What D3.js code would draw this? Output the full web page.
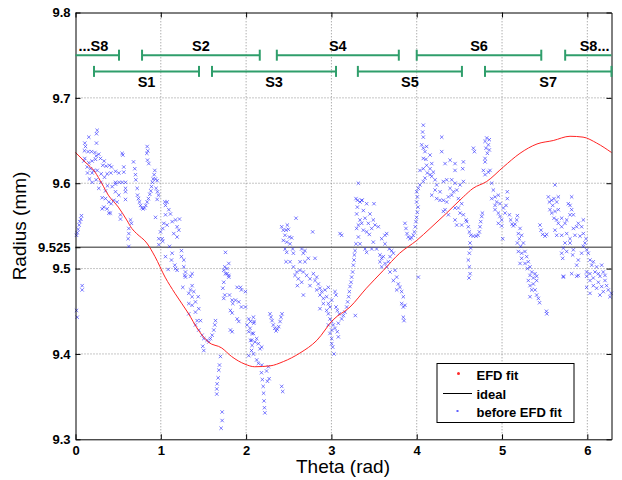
<!DOCTYPE html>
<html>
<head>
<meta charset="utf-8">
<script src="https://cdn.jsdelivr.net/npm/d3@7"></script>
<style>
  body { margin: 0; background: #fff; }
  text { font-family: "Liberation Sans", Arial, sans-serif; }
</style>
</head>
<body>
<svg id="chart"></svg>
<script>
// ---- data ----
const xTicks = [0, 1, 2, 3, 4, 5, 6];
const yTicks = [9.3, 9.4, 9.5, 9.525, 9.6, 9.7, 9.8];
const yGrid = [9.4, 9.5, 9.6, 9.7];
const idealRadius = 9.525;

const efdTheta = [0, 0.111, 0.229, 0.307, 0.385, 0.502, 0.6, 0.66, 0.717, 0.835, 0.932, 1.05, 1.166, 1.32, 1.44, 1.557, 1.714, 1.83, 1.987, 2.10, 2.28, 2.436, 2.63, 2.83, 3.02, 3.218, 3.41, 3.61, 3.80, 4.0, 4.156, 4.35, 4.546, 4.66, 4.82, 5.015, 5.21, 5.41, 5.60, 5.797, 5.95, 6.11, 6.283];
const efdRadius = [9.636, 9.625, 9.613, 9.600, 9.586, 9.572, 9.557, 9.547, 9.541, 9.530, 9.514, 9.490, 9.471, 9.448, 9.428, 9.414, 9.407, 9.397, 9.388, 9.385, 9.386, 9.391, 9.401, 9.416, 9.440, 9.455, 9.477, 9.498, 9.518, 9.533, 9.547, 9.565, 9.584, 9.594, 9.602, 9.619, 9.635, 9.646, 9.650, 9.655, 9.654, 9.647, 9.636];

// segments: upper row and lower row
const segUpperNames = ["...S8", "S2", "S4", "S6", "S8..."];
const segUpperStart = [0, 0.78, 2.36, 4.0, 5.74];
const segUpperEnd = [0.51, 2.16, 3.79, 5.46, 6.283];
const segLowerNames = ["S1", "S3", "S5", "S7"];
const segLowerStart = [0.217, 1.6, 3.31, 4.80];
const segLowerEnd = [1.448, 3.054, 4.53, 6.283];

// raw points (theta, radius) before the fit
const before1 = [[0.156,9.654],[0.254,9.662],[0.246,9.658],[0.246,9.647],[0.109,9.647],[0.117,9.643],[0.105,9.638],[0.148,9.637],[0.188,9.637],[0.227,9.636],[0.273,9.634],[0.242,9.632],[0.109,9.629],[0.098,9.626],[0.156,9.624],[0.195,9.626],[0.234,9.628],[0.293,9.629],[0.336,9.626],[0.320,9.621],[0.359,9.620],[0.398,9.621],[0.422,9.619],[0.547,9.635],[0.555,9.633],[0.137,9.619],[0.176,9.617],[0.215,9.615],[0.254,9.615],[0.195,9.612],[0.141,9.612],[0.301,9.611],[0.371,9.611],[0.414,9.612],[0.469,9.614],[0.508,9.612],[0.566,9.613],[0.340,9.607],[0.164,9.605],[0.195,9.601],[0.242,9.604],[0.297,9.601],[0.469,9.601],[0.512,9.601],[0.547,9.601],[0.586,9.601],[0.375,9.597],[0.430,9.596],[0.469,9.599],[0.566,9.619],[0.680,9.625],[0.695,9.617],[0.703,9.610],[0.707,9.604],[0.723,9.594],[0.586,9.594],[0.586,9.590],[0.273,9.594],[0.352,9.591],[0.313,9.583],[0.352,9.582],[0.391,9.578],[0.418,9.576],[0.449,9.580],[0.488,9.578],[0.586,9.581],[0.508,9.586],[0.469,9.590],[0.332,9.572],[0.371,9.570],[0.391,9.565],[0.410,9.565],[0.527,9.563],[0.527,9.558],[0.313,9.570],
  [0.070,9.562],[0.063,9.558],[0.051,9.555],[0.043,9.551],[0.031,9.546],[0.020,9.542],[0.012,9.539],[0.078,9.480],[0.078,9.475],[0.012,9.451],[0.020,9.443],
  [0.727,9.586],[0.738,9.582],[0.750,9.578],[0.762,9.574],[0.777,9.571],[0.793,9.570],[0.809,9.571],[0.824,9.574],[0.840,9.578],[0.855,9.582],[0.871,9.587],[0.883,9.591],[0.891,9.596],[0.902,9.601],[0.910,9.605],[0.922,9.610],[0.930,9.615],[0.840,9.643],[0.848,9.638],[0.836,9.635],[0.844,9.627],[0.859,9.623],[0.938,9.605],[0.957,9.603],[0.945,9.594],[0.961,9.590],[0.973,9.586],[0.957,9.581],[0.938,9.560],
  [0.625,9.547],[0.645,9.557],[0.656,9.553],[0.625,9.541],[0.617,9.535],[0.625,9.526],[0.977,9.535],[0.977,9.528],[0.996,9.543]];

const before2 = [[1.047,9.578],[1.074,9.578],[1.055,9.574],[1.094,9.569],[1.113,9.564],[1.055,9.563],[1.035,9.553],[1.133,9.555],[1.172,9.557],[1.219,9.558],[1.191,9.549],[1.074,9.551],[1.023,9.547],[1.016,9.535],[1.023,9.532],[1.102,9.526],[1.152,9.541],[1.211,9.545],[1.191,9.537],
  [1.055,9.514],[1.133,9.518],[1.125,9.510],[1.164,9.504],[1.172,9.500],[1.242,9.521],[1.242,9.514],[1.270,9.510],[1.270,9.502],[1.289,9.496],[1.281,9.492],[1.367,9.494],[1.348,9.491],[1.086,9.499],[1.191,9.498],
  [1.758,9.519],[1.797,9.506],[1.777,9.500],[1.758,9.494],[1.797,9.492],[1.750,9.502],
  [1.289,9.490],[1.258,9.478],[1.367,9.480],[1.348,9.475],[1.328,9.471],[1.387,9.473],[1.438,9.467],[1.406,9.461],[1.328,9.459],[1.367,9.457],[1.445,9.453],[1.328,9.447],[1.406,9.449],[1.426,9.439],[1.465,9.439],[1.406,9.434],[1.445,9.428],[1.484,9.422],[1.504,9.418],[1.543,9.416],[1.563,9.414],[1.582,9.418],[1.602,9.422],[1.621,9.428],[1.633,9.434],[1.641,9.439],[1.492,9.409],[1.504,9.404],[1.367,9.467],
  [1.699,9.397],[1.688,9.387],[1.680,9.381],[1.672,9.372],[1.660,9.365],[1.656,9.359],[1.656,9.353],[1.719,9.332],[1.719,9.322],[1.707,9.313],
  [1.738,9.498],[1.777,9.494],[1.797,9.490],[1.738,9.484],[1.727,9.477],[1.750,9.469],[1.738,9.465],[1.805,9.469],[1.836,9.463],[1.844,9.459],[1.816,9.451],[1.836,9.448],[1.895,9.478],[1.934,9.478],[1.945,9.475],[1.992,9.473],[1.875,9.463],[1.914,9.461],[1.945,9.455],[1.992,9.455],[1.895,9.441],[1.914,9.438],[1.836,9.426],[1.816,9.428]];

const before3 = [[2.031,9.441],[2.012,9.434],[2.051,9.438],[2.090,9.436],[2.031,9.426],[2.070,9.424],[2.051,9.416],[2.070,9.410],[2.063,9.404],[2.031,9.398],
  [2.085,9.443],[2.093,9.438],[2.046,9.430],[2.085,9.424],[2.124,9.418],[2.105,9.414],[2.144,9.412],[2.163,9.406],[2.183,9.408],[2.066,9.416],[2.085,9.400],[2.124,9.393],[2.144,9.389],[2.183,9.387],[2.261,9.385],
  [2.18,9.378],[2.19,9.370],[2.20,9.362],[2.205,9.354],[2.21,9.345],[2.215,9.337],[2.22,9.331],[2.25,9.368],[2.27,9.371],[2.417,9.362],[2.429,9.356],[2.24,9.380],
  [2.280,9.447],[2.292,9.443],[2.304,9.439],[2.319,9.434],[2.335,9.430],[2.351,9.427],[2.366,9.429],[2.382,9.432],[2.398,9.438],[2.409,9.443],[2.421,9.447],
  [2.417,9.549],[2.483,9.551],[2.436,9.545],[2.468,9.545],[2.495,9.546],[2.585,9.559],[2.456,9.539],[2.507,9.537],[2.534,9.536],[2.436,9.533],[2.476,9.531],[2.515,9.529],[2.546,9.523],[2.456,9.523],[2.476,9.519],[2.554,9.518],[2.651,9.523],[2.690,9.521],[2.671,9.518],[2.780,9.543],[2.468,9.508],[2.515,9.508],[2.632,9.508],[2.690,9.508],[2.729,9.512],[2.808,9.512],[2.554,9.502],[2.593,9.496],[2.632,9.498],[2.671,9.496],[2.710,9.492],[2.749,9.488],[2.788,9.494],[2.808,9.486],[2.573,9.492],[2.612,9.488],[2.651,9.484],[2.601,9.480],[2.749,9.480],[2.827,9.490],[2.847,9.482],[2.866,9.477],[2.827,9.475],[2.886,9.473],[2.925,9.475],[2.964,9.478],[2.671,9.469],[2.866,9.469],[2.905,9.465],[2.944,9.467],[2.905,9.459],[2.964,9.459],[2.866,9.453],[2.944,9.451],[2.983,9.455],
  [2.964,9.447],[2.983,9.441],[2.964,9.434],[2.983,9.424]];

const before4 = [[3.003,9.463],[3.042,9.473],[3.054,9.469],[3.003,9.438],[3.022,9.434],[3.003,9.428],[3.042,9.430],[3.081,9.436],[3.069,9.426],[3.081,9.420],[3.003,9.418],[3.003,9.412],[3.015,9.408],[3.030,9.400],[3.069,9.451],[3.093,9.447],[3.054,9.455],
  [3.120,9.441],[3.140,9.445],[3.159,9.449],[3.179,9.455],[3.190,9.461],[3.202,9.467],[3.210,9.473],[3.218,9.479],[3.230,9.484],[3.237,9.490],[3.249,9.496],[3.257,9.504],[3.265,9.510],[3.269,9.516],[3.277,9.521],[3.288,9.529],[3.316,9.537],[3.296,9.547],[3.316,9.551],[3.335,9.557],[3.296,9.564],[3.304,9.572],[3.335,9.578],[3.280,9.445],
  [3.355,9.580],[3.413,9.576],[3.499,9.576],[3.374,9.568],[3.452,9.564],[3.394,9.559],[3.355,9.553],[3.433,9.553],[3.491,9.557],[3.511,9.551],[3.550,9.549],[3.472,9.547],[3.374,9.545],[3.413,9.543],[3.444,9.540],[3.335,9.529],[3.394,9.523],[3.413,9.519],[3.472,9.523],[3.491,9.531],[3.589,9.535],[3.628,9.539],[3.648,9.541],[3.101,9.541],[3.120,9.539],
  [3.316,9.600],[3.288,9.582],[3.304,9.580],[3.358,9.580],
  [3.530,9.523],[3.569,9.516],[3.589,9.512],[3.569,9.508],[3.608,9.514],[3.628,9.506],[3.589,9.502],[3.648,9.502],[3.667,9.508],[3.687,9.514],[3.706,9.521],[3.726,9.518],[3.687,9.496],[3.745,9.498],[3.765,9.490],[3.726,9.486],[3.784,9.482],[3.804,9.478],[3.765,9.475],[3.823,9.473],[3.843,9.467],[3.823,9.459],[3.843,9.455],[3.862,9.457],[3.843,9.443],[3.851,9.439],[3.628,9.529],[3.679,9.523],
  [3.862,9.553],[3.874,9.547],[3.886,9.541],[3.901,9.537],[3.921,9.535],[3.940,9.536],[3.960,9.539],[3.972,9.543],[3.983,9.549],[3.991,9.555],[3.999,9.560],[4.007,9.566],[4.015,9.572],[3.999,9.578]];

const before5 = [[4.019,9.490],[4.077,9.668],[4.069,9.660],[4.077,9.654],[4.058,9.645],[4.077,9.641],[4.116,9.643],[4.097,9.637],[4.077,9.629],[4.108,9.628],[4.116,9.621],[4.077,9.617],[4.038,9.615],[4.124,9.612],[4.097,9.606],[4.077,9.602],[4.038,9.598],[4.019,9.594],[4.0,9.590],[4.007,9.584],
  [4.293,9.654],[4.293,9.637],[4.156,9.633],[4.176,9.623],[4.156,9.617],[4.195,9.613],[4.176,9.608],[4.215,9.604],[4.156,9.610],[4.332,9.623],[4.391,9.627],[4.449,9.623],[4.449,9.615],[4.547,9.625],[4.539,9.617],[4.312,9.602],[4.351,9.604],[4.410,9.604],[4.449,9.600],[4.547,9.602],[4.234,9.598],[4.215,9.592],[4.273,9.590],[4.391,9.594],[4.430,9.590],[4.410,9.586],[4.469,9.592],[4.508,9.598],[4.176,9.586],[4.234,9.582],[4.273,9.580],[4.312,9.580],[4.351,9.578],[4.371,9.584],[4.488,9.582],[4.527,9.576],[4.332,9.569],[4.312,9.567],[4.371,9.563],[4.449,9.571],[4.488,9.571],[4.508,9.565],[4.547,9.563],[4.449,9.557],[4.469,9.551],[4.527,9.551],[4.578,9.557],
  [4.664,9.641],[4.676,9.637],[4.801,9.649],[4.820,9.653],[4.851,9.651],[4.840,9.645],[4.812,9.641],[4.851,9.639],[4.828,9.635],[4.801,9.629],[4.801,9.625],[4.781,9.615],[4.801,9.610],[4.840,9.613],[4.859,9.615],
  [4.586,9.555],[4.605,9.549],[4.617,9.543],[4.633,9.539],[4.664,9.538],[4.695,9.538],[4.719,9.539],[4.734,9.543],[4.742,9.549],[4.750,9.555],[4.762,9.561],[4.770,9.565],[4.625,9.530],[4.633,9.524],[4.617,9.518],[4.605,9.510],[4.617,9.502],[4.625,9.494],[4.613,9.489],
  [4.879,9.600],[4.898,9.592],[4.879,9.582],[4.918,9.584],[4.957,9.586],[4.937,9.578],[4.918,9.574],[4.976,9.576],[4.918,9.569],[4.957,9.565],[4.976,9.561],[4.996,9.557],[4.957,9.553],[4.996,9.550],[5.008,9.535]];

const before6 = [[5.035,9.565],[5.016,9.571],[5.062,9.590],[5.062,9.582],[5.047,9.574],[5.086,9.563],[5.101,9.557],[5.117,9.552],[5.133,9.550],[5.152,9.552],[5.172,9.557],[5.180,9.562],
  [5.211,9.547],[5.191,9.541],[5.230,9.539],[5.203,9.535],[5.180,9.530],[5.219,9.526],[5.250,9.530],[5.191,9.520],[5.230,9.518],[5.269,9.520],[5.230,9.512],[5.289,9.514],[5.308,9.508],[5.269,9.506],[5.328,9.502],[5.297,9.500],[5.348,9.496],[5.328,9.492],[5.387,9.494],[5.367,9.489],[5.406,9.491],[5.211,9.506],
  [5.308,9.486],[5.328,9.480],[5.367,9.482],[5.406,9.486],[5.348,9.475],[5.387,9.475],[5.406,9.469],[5.426,9.465],[5.328,9.467],[5.44,9.460],[5.52,9.450],[5.525,9.447],
  [5.445,9.551],[5.457,9.545],[5.476,9.540],[5.504,9.538],[5.523,9.540],[5.621,9.598],
  [5.543,9.584],[5.555,9.578],[5.582,9.580],[5.609,9.582],[5.641,9.578],[5.660,9.584],[5.594,9.574],[5.562,9.569],[5.582,9.565],[5.621,9.567],[5.660,9.569],[5.609,9.559],[5.641,9.557],[5.660,9.553],[5.699,9.559],[5.699,9.549],[5.738,9.553],[5.758,9.557],[5.797,9.563],[5.797,9.574],[5.816,9.569],[5.836,9.563],[5.816,9.584],[5.777,9.576],[5.621,9.545],[5.641,9.539],[5.699,9.539],[5.758,9.541],[5.797,9.535],[5.836,9.547],[5.875,9.549],[5.894,9.553],[5.933,9.549],[5.953,9.557],[5.855,9.539],[5.914,9.538],[5.953,9.541],[5.984,9.535],[5.738,9.530],[5.719,9.524],[5.699,9.518],[5.711,9.512],[5.758,9.520],[5.797,9.530],[5.836,9.522],[5.828,9.516],[5.875,9.504],[5.894,9.510],[5.933,9.518],[5.953,9.526],[5.972,9.530],[5.992,9.522],[5.719,9.491],[5.816,9.494],[5.875,9.491],
  [6.011,9.518],[6.031,9.510],[6.051,9.504],[6.070,9.508],[6.109,9.502],[6.090,9.496],[6.129,9.494],[6.168,9.504],[6.187,9.496],[6.148,9.491],[6.207,9.492],[6.031,9.494],[5.992,9.491],[6.070,9.489],
  [5.992,9.496],[6.031,9.486],[6.070,9.480],[6.129,9.484],[6.109,9.477],[6.168,9.479],[6.207,9.486],[6.226,9.480],[6.187,9.473],[6.246,9.475],[6.148,9.469],[6.265,9.467],[6.280,9.471],[5.992,9.478],[6.031,9.471],[5.894,9.492],[5.719,9.490]];

const legendLabels = ["EFD fit", "ideal", "before EFD fit"];

/**
 * Set stuff up.
 */
const width = 622, height = 480;
const margin = { left: 75.5, right: 10.5, top: 12.5, bottom: 40.7 };
const svg = d3.select('#chart')
    .attr('width', width)
    .attr('height', height);

svg.append('rect').attr('width', width).attr('height', height).attr('fill', '#fff');

const x = d3.scaleLinear()
    .domain([0, 2 * Math.PI])
    .range([margin.left, width - margin.right]);
const y = d3.scaleLinear()
    .domain([9.3, 9.8])
    .range([height - margin.bottom, margin.top]);

const g = svg.append('g');

// grid
g.selectAll('line.vgrid')
    .data(xTicks.filter(d => d > 0))
    .enter().append('line')
    .attr('x1', d => x(d)).attr('x2', d => x(d))
    .attr('y1', y(9.3)).attr('y2', y(9.8))
    .attr('stroke', '#8c8c8c').attr('stroke-dasharray', '1,2');
g.selectAll('line.hgrid')
    .data(yGrid)
    .enter().append('line')
    .attr('x1', x(0)).attr('x2', x(2 * Math.PI))
    .attr('y1', d => y(d)).attr('y2', d => y(d))
    .attr('stroke', '#8c8c8c').attr('stroke-dasharray', '1,2');

// ideal line
g.append('line')
    .attr('x1', x(0)).attr('x2', x(2 * Math.PI))
    .attr('y1', y(idealRadius)).attr('y2', y(idealRadius))
    .attr('stroke', '#6e6e6e').attr('stroke-width', 1.5);

// raw points as small x marks
const allBefore = before1.concat(before2, before3, before4, before5, before6);
const s = 1.7;
g.append('g')
    .selectAll('path')
    .data(allBefore)
    .enter().append('path')
    .attr('d', d => {
        const px = x(d[0]), py = y(d[1]);
        return `M${px - s},${py - s}L${px + s},${py + s}M${px - s},${py + s}L${px + s},${py - s}`;
    })
    .attr('stroke', '#3434ff')
    .attr('stroke-opacity', 0.65)
    .attr('stroke-width', 1);

// EFD fit
const fit = efdTheta.map((t, i) => [t, efdRadius[i]]);
const fitLine = d3.line()
    .x(d => x(d[0]))
    .y(d => y(d[1]))
    .curve(d3.curveMonotoneX);
g.append('path')
    .datum(fit)
    .attr('d', fitLine)
    .attr('fill', 'none')
    .attr('stroke', '#ff2424')
    .attr('stroke-width', 1);

// axes box + ticks
const axisG = svg.append('g');
axisG.append('g')
    .attr('transform', `translate(0,${y(9.3)})`)
    .call(d3.axisBottom(x).tickValues(xTicks).tickSizeInner(-5).tickSizeOuter(0).tickPadding(6).tickFormat(d3.format('d')));
axisG.append('g')
    .attr('transform', `translate(0,${y(9.8)})`)
    .call(d3.axisTop(x).tickValues(xTicks).tickSizeInner(-5).tickSizeOuter(0).tickFormat(''));
axisG.append('g')
    .attr('transform', `translate(${x(0)},0)`)
    .call(d3.axisLeft(y).tickValues(yTicks).tickSizeInner(-5).tickSizeOuter(0).tickPadding(5).tickFormat(d => d === 9.525 ? '9.525' : d3.format('.1f')(d)));
axisG.append('g')
    .attr('transform', `translate(${x(2 * Math.PI)},0)`)
    .call(d3.axisRight(y).tickValues(yTicks.filter(d => d !== 9.525)).tickSizeInner(-5).tickSizeOuter(0).tickFormat(''));
axisG.selectAll('.domain').attr('stroke', '#000');
axisG.selectAll('.tick line').attr('stroke', '#000');
axisG.selectAll('text')
    .attr('font-family', '"Liberation Sans", Arial, sans-serif')
    .attr('font-size', 13)
    .attr('font-weight', 'bold')
    .attr('fill', '#000');

// axis titles
svg.append('text')
    .attr('x', 343).attr('y', 473)
    .attr('text-anchor', 'middle')
    .attr('font-size', 19)
    .text('Theta (rad)');
svg.append('text')
    .attr('transform', `translate(26,226) rotate(-90)`)
    .attr('text-anchor', 'middle')
    .attr('font-size', 19)
    .text('Radius (mm)');

// segment bars
const segColor = '#2f9e6b';
function drawSegments(names, starts, ends, r, labelDy, row) {
    const sg = svg.append('g');
    names.forEach((name, i) => {
        const x0 = x(starts[i]), x1 = x(ends[i]), yy = y(r);
        sg.append('line').attr('x1', x0).attr('x2', x1).attr('y1', yy).attr('y2', yy)
            .attr('stroke', segColor).attr('stroke-width', 2);
        if (starts[i] > 0) {
            sg.append('line').attr('x1', x0).attr('x2', x0).attr('y1', yy - 5.5).attr('y2', yy + 5.5)
                .attr('stroke', segColor).attr('stroke-width', 2);
        }
        if (!(row === 'upper' && i === names.length - 1)) {
            sg.append('line').attr('x1', x1).attr('x2', x1).attr('y1', yy - 5.5).attr('y2', yy + 5.5)
                .attr('stroke', segColor).attr('stroke-width', 2);
        }
        let tx = (x0 + x1) / 2, anchor = 'middle';
        if (name.startsWith('...')) { tx = x0 + 3; anchor = 'start'; }
        if (name.endsWith('...')) { tx = x1 - 2; anchor = 'end'; }
        sg.append('text')
            .attr('x', tx).attr('y', yy + labelDy)
            .attr('text-anchor', anchor)
            .attr('font-size', 14.5).attr('font-weight', 'bold')
            .text(name);
    });
}
drawSegments(segUpperNames, segUpperStart, segUpperEnd, 9.750, -4, 'upper');
drawSegments(segLowerNames, segLowerStart, segLowerEnd, 9.731, 16, 'lower');

// legend
const lg = svg.append('g');
lg.append('rect')
    .attr('x', 437).attr('y', 363.5).attr('width', 137).attr('height', 59)
    .attr('fill', '#fff').attr('stroke', '#000').attr('stroke-width', 1);
const rowY = [374.5, 393.5, 412];
lg.append('circle').attr('cx', 458.5).attr('cy', rowY[0] - 1).attr('r', 1.5).attr('fill', '#ff2a2a');
lg.append('line').attr('x1', 443).attr('x2', 472).attr('y1', rowY[1]).attr('y2', rowY[1]).attr('stroke', '#000');
lg.append('rect').attr('x', 456.5).attr('y', rowY[2] - 2).attr('width', 2).attr('height', 2).attr('fill', '#6060ff');
lg.selectAll('text.leg')
    .data(legendLabels)
    .enter().append('text')
    .attr('x', 476.5)
    .attr('y', (d, i) => rowY[i] + 5)
    .attr('font-size', 13).attr('font-weight', 'bold')
    .text(d => d);
</script>
</body>
</html>
